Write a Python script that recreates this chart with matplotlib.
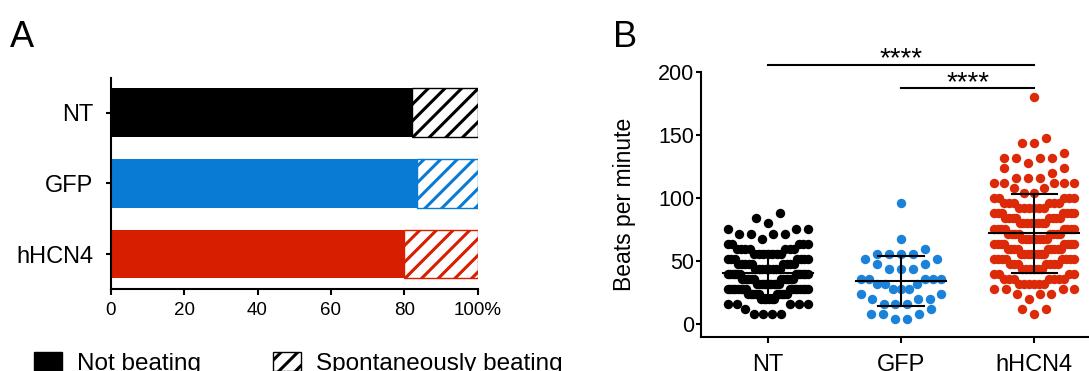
import numpy as np
import matplotlib
matplotlib.use("Agg")
import matplotlib.pyplot as plt
from matplotlib.patches import Patch

plt.rcParams['font.family'] = ['Liberation Sans', 'DejaVu Sans']
plt.rcParams['hatch.linewidth'] = 2.2

# ---- data ----
groups = ["NT", "GFP", "hHCN4"]
colors = ["#000000", "#0a7bd5", "#d81e00"]
dot_colors = ["#000000", "#1a82d9", "#dc2a08"]
not_beating = [82.1, 83.4, 79.8]          # % of wells, panel A
pct_ticks = [0, 20, 40, 60, 80, 100]
pct_labels = ["0", "20", "40", "60", "80", "100%"]

# beats per minute (counted in 15 s, so steps of 4) and how many wells had each value
nt_levels = [8, 12, 16, 20, 24, 28, 32, 36, 40, 44, 48, 52, 56, 60, 64, 68, 72, 76, 80, 84, 88]
nt_counts = [4, 1, 5, 6, 10, 16, 10, 12, 12, 8, 9, 7, 7, 7, 5, 1, 4, 3, 1, 1, 1]
gfp_levels = [4, 8, 12, 16, 20, 24, 28, 32, 36, 44, 48, 52, 56, 60, 68, 96]
gfp_counts = [2, 3, 1, 3, 3, 2, 3, 3, 5, 3, 2, 2, 4, 1, 1, 1]
hcn4_levels = [8, 12, 20, 24, 28, 32, 36, 40, 44, 48, 52, 56, 60, 64, 68, 72, 76, 80,
               84, 88, 92, 96, 100, 104, 108, 112, 116, 120, 124, 128, 132, 136, 144, 148, 180]
hcn4_counts = [1, 2, 1, 3, 4, 6, 7, 4, 6, 7, 8, 8, 9, 8, 8, 8, 8, 8,
               8, 7, 6, 6, 5, 2, 2, 5, 3, 1, 2, 1, 4, 1, 2, 1, 1]
bpm = [np.repeat(nt_levels, nt_counts),
       np.repeat(gfp_levels, gfp_counts),
       np.repeat(hcn4_levels, hcn4_counts)]

W, H = 1089, 371
fig = plt.figure(figsize=(W / 100, H / 100), dpi=100)


def px_axes(left, top, right, bottom):
    return fig.add_axes([left / W, 1 - bottom / H, (right - left) / W, (bottom - top) / H])


def scatter_rows(vals, h=8, s_max=12.0, width=80.0):
    # Prism-like layout: points grouped in rows, lowest value of a row in the middle
    v = np.sort(np.asarray(vals, float))
    xs = np.zeros(len(v))
    i = 0
    while i < len(v):
        j = i
        while j < len(v) and v[j] <= v[i] + h:
            j += 1
        n = j - i
        s = s_max if n < 2 else min(s_max, width / (n - 1))
        slots = (np.arange(n) - (n - 1) / 2) * s
        slots = slots[np.lexsort((slots, np.abs(slots)))]
        xs[i:j] = slots
        i = j
    return v, xs


# ---- panel A ----
axA = px_axes(110.7, 78, 477.7, 288.7)
ypos = np.arange(len(groups))
for i in range(len(groups)):
    axA.barh(ypos[i], not_beating[i], height=0.686, color=colors[i], lw=0)
    axA.barh(ypos[i], 100 - not_beating[i], left=not_beating[i], height=0.686,
             facecolor="white", edgecolor=colors[i], hatch="//", lw=1)
axA.set_xlim(0, 100)
axA.set_ylim(2.49, -0.49)
axA.set_yticks(ypos)
axA.set_yticklabels(groups, fontsize=17)
axA.set_xticks(pct_ticks)
axA.set_xticklabels(pct_labels, fontsize=13.5)
for s in ["top", "right"]:
    axA.spines[s].set_visible(False)
for s in ["left", "bottom"]:
    axA.spines[s].set_linewidth(1.5)
axA.tick_params(axis="y", length=3.5, width=1.5, pad=9)
axA.tick_params(axis="x", length=4.5, width=1.5, pad=5)

fig.legend(handles=[Patch(facecolor="black", edgecolor="black"),
                    Patch(facecolor="white", edgecolor="black", hatch="//")],
           labels=["Not beating", "Spontaneously beating"],
           loc="upper left", bbox_to_anchor=(34 / W, 1 - 352 / H), ncol=2,
           frameon=False, fontsize=17.5, borderpad=0, borderaxespad=0,
           handlelength=1.15, handleheight=0.8, handletextpad=0.6, columnspacing=3.0)

# ---- panel B ----
axB = px_axes(701, 72.3, 1089, 336.5)
ylo, yhi = -9.7, 200
axB.set_xlim(0.5, 3.41)
axB.set_ylim(ylo, yhi)
ppu_x = 388 / (3.41 - 0.5)

for i, vals in enumerate(bpm):
    v, xo = scatter_rows(vals)
    axB.scatter(i + 1 + xo / ppu_x, v, s=46, color=dot_colors[i], linewidths=0,
                zorder=2, clip_on=False)
    m, sd = np.mean(vals), np.std(vals, ddof=1)
    axB.plot([i + 1 - 0.3375, i + 1 + 0.3375], [m, m], color="black", lw=1.5, zorder=3)
    axB.plot([i + 1, i + 1], [m - sd, m + sd], color="black", lw=1.5, zorder=3)
    for e in (m - sd, m + sd):
        axB.plot([i + 1 - 0.169, i + 1 + 0.169], [e, e], color="black", lw=1.5, zorder=3)

axB.set_yticks([0, 50, 100, 150, 200])
axB.tick_params(axis="y", labelsize=15.5, length=3.5, width=1.5, pad=1.5)
axB.set_xticks([1, 2, 3])
axB.set_xticklabels(groups, fontsize=17)
axB.tick_params(axis="x", length=4.5, width=1.5, pad=8)
axB.set_ylabel("Beats per minute", fontsize=16.5)
axB.yaxis.set_label_coords((636 - 701) / 388, 0.5)
for s in ["top", "right"]:
    axB.spines[s].set_visible(False)
for s in ["left", "bottom"]:
    axB.spines[s].set_linewidth(1.5)

# significance bars
axB.plot([1, 3], [205.8, 205.8], color="black", lw=1.5, clip_on=False)
axB.plot([2, 3], [187.5, 187.5], color="black", lw=1.5, clip_on=False)
axB.text(2, 204.8, "****", ha="center", va="baseline", fontsize=20)
axB.text(2.5, 185.7, "****", ha="center", va="baseline", fontsize=20)

fig.text(10 / W, 1 - 20 / H, "A", fontsize=26, va="top", ha="left")
fig.text(613 / W, 1 - 20 / H, "B", fontsize=26, va="top", ha="left")

fig.savefig("out.png", dpi=100)
